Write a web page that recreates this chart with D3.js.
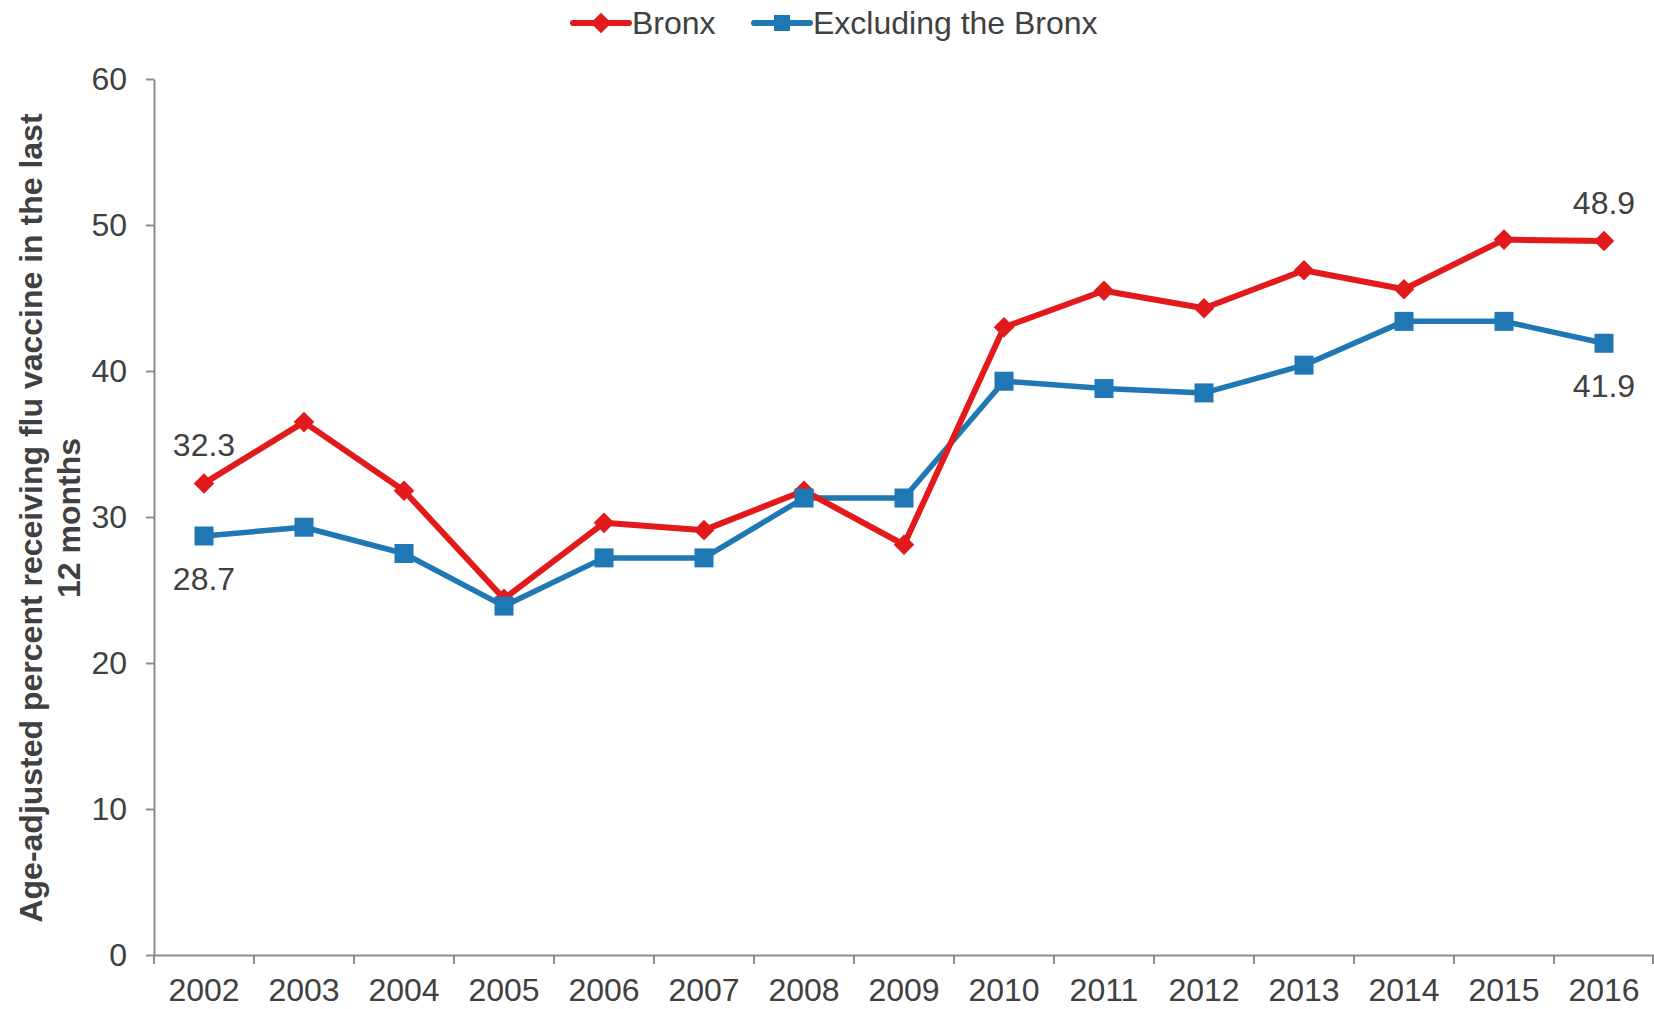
<!DOCTYPE html>
<html lang="en">
<head>
    <meta charset="UTF-8">
    <title>Flu vaccine, Bronx</title>
    <style>
        body { margin: 0; background: #fff; }
        svg text { font-family: "Liberation Sans", Arial, sans-serif; fill: #404040; }
    </style>
</head>
<body>
    <div class="container"></div>
    <script src="https://cdn.jsdelivr.net/npm/d3@7"></script>
    <script>
        // Data
        const years = ["2002","2003","2004","2005","2006","2007","2008","2009","2010","2011","2012","2013","2014","2015","2016"]
        const bronx = [32.3, 36.5, 31.8, 24.4, 29.6, 29.1, 31.8, 28.1, 43.0, 45.5, 44.3, 46.9, 45.6, 49.0, 48.9]
        const excludingBronx = [28.7, 29.3, 27.5, 23.9, 27.2, 27.2, 31.3, 31.3, 39.3, 38.8, 38.5, 40.4, 43.4, 43.4, 41.9]
        const yTicks = [0, 10, 20, 30, 40, 50, 60]

        // Config
        const width = 1654
        const height = 1009
        const plotLeft = 154, plotRight = 1654, plotTop = 79, plotBottom = 955
        const fontSize = 32
        const red = "#e31a1c"
        const blue = "#1f77b4"
        const axisColor = "#8c8c8c"

        const svg = d3.select(".container")
                    .append("svg")
                    .attr("width", width)
                    .attr("height", height)

        const xScale = d3.scaleBand().domain(years).range([plotLeft, plotRight])
        const yScale = d3.scaleLinear().domain([0, 60]).range([plotBottom, plotTop])
        const cx = d => xScale(d) + xScale.bandwidth() / 2

        // Left axis
        const leftAxis = d3.axisLeft(yScale)
                        .tickValues(yTicks)
                        .tickSize(8)
                        .tickPadding(19)
                        .tickSizeOuter(0)
        const leftAxisGroup = svg.append("g")
                        .attr("transform", `translate(${plotLeft},0)`)
                        .call(leftAxis)
        leftAxisGroup.select(".domain").attr("stroke", axisColor).attr("stroke-width", 2)
        leftAxisGroup.selectAll(".tick line").attr("stroke", axisColor).attr("stroke-width", 2)
        leftAxisGroup.selectAll(".tick text")
                    .attr("font-size", fontSize)
                    .attr("font-family", null)
                    .attr("fill", null)

        // Bottom axis: labels at band centres, ticks at band edges
        const bottomAxis = d3.axisBottom(xScale).tickSize(0).tickPadding(23).tickSizeOuter(0)
        const bottomAxisGroup = svg.append("g")
                        .attr("transform", `translate(0,${plotBottom})`)
                        .call(bottomAxis)
        bottomAxisGroup.select(".domain").attr("stroke", axisColor).attr("stroke-width", 2)
        bottomAxisGroup.selectAll(".tick text")
                    .attr("font-size", fontSize)
                    .attr("font-family", null)
                    .attr("fill", null)

        const edges = years.map(d => xScale(d)).concat([xScale.range()[1] - 1])
        bottomAxisGroup.selectAll(".edge")
                    .data(edges)
                    .join("line")
                    .attr("class", "edge")
                    .attr("x1", d => d).attr("x2", d => d)
                    .attr("y1", 0).attr("y2", 9)
                    .attr("stroke", axisColor)
                    .attr("stroke-width", 2)

        // Y axis title
        const title = svg.append("text")
                    .attr("transform", `translate(42,${(plotTop + plotBottom) / 2 + 1}) rotate(-90)`)
                    .attr("text-anchor", "middle")
                    .attr("font-size", 32)
                    .attr("font-weight", "bold")
        title.append("tspan").attr("x", 0).attr("dy", 0).text("Age-adjusted percent receiving flu vaccine in the last")
        title.append("tspan").attr("x", 0).attr("dy", 38).text("12 months")

        // Lines
        const line = vals => d3.line()
                    .x((d, i) => cx(years[i]))
                    .y(d => yScale(d))(vals)

        svg.append("path").attr("d", line(excludingBronx))
            .attr("fill", "none").attr("stroke", blue).attr("stroke-width", 5.5)
            .attr("stroke-linejoin", "round")
        svg.append("path").attr("d", line(bronx))
            .attr("fill", "none").attr("stroke", red).attr("stroke-width", 6)
            .attr("stroke-linejoin", "round")

        // Markers
        const diamond = d3.symbol().type(d3.symbolDiamond2).size(270)
        svg.selectAll(".bronx-pt")
            .data(bronx)
            .join("path")
            .attr("class", "bronx-pt")
            .attr("d", diamond)
            .attr("transform", (d, i) => `translate(${cx(years[i])},${yScale(d)})`)
            .attr("fill", red)

        svg.selectAll(".excl-pt")
            .data(excludingBronx)
            .join("rect")
            .attr("class", "excl-pt")
            .attr("x", (d, i) => cx(years[i]) - 9.5)
            .attr("y", d => yScale(d) - 9.5)
            .attr("width", 19)
            .attr("height", 19)
            .attr("fill", blue)

        // Data labels on first and last points
        const labelIdx = [0, years.length - 1]
        labelIdx.forEach(i => {
            svg.append("text")
                .attr("x", cx(years[i]))
                .attr("y", yScale(bronx[i]) - 27)
                .attr("text-anchor", "middle")
                .attr("font-size", fontSize)
                .text(bronx[i].toFixed(1))
            svg.append("text")
                .attr("x", cx(years[i]))
                .attr("y", yScale(excludingBronx[i]) + 54)
                .attr("text-anchor", "middle")
                .attr("font-size", fontSize)
                .text(excludingBronx[i].toFixed(1))
        })

        // Legend
        const legend = svg.append("g").attr("transform", "translate(0,23)")
        const legendItems = [
            { name: "Bronx", color: red, x: 573 },
            { name: "Excluding the Bronx", color: blue, x: 754 }
        ]
        legendItems.forEach((item, k) => {
            legend.append("line")
                .attr("x1", item.x).attr("x2", item.x + 56)
                .attr("stroke", item.color).attr("stroke-width", 6)
                .attr("stroke-linecap", "round")
            if (k === 0) {
                legend.append("path").attr("d", diamond)
                    .attr("transform", `translate(${item.x + 28},0)`)
                    .attr("fill", item.color)
            } else {
                legend.append("rect")
                    .attr("x", item.x + 20).attr("y", -8)
                    .attr("width", 16).attr("height", 16)
                    .attr("fill", item.color)
            }
            legend.append("text")
                .attr("x", item.x + 59)
                .attr("y", 11)
                .attr("font-size", fontSize)
                .text(item.name)
        })
    </script>
</body>
</html>
